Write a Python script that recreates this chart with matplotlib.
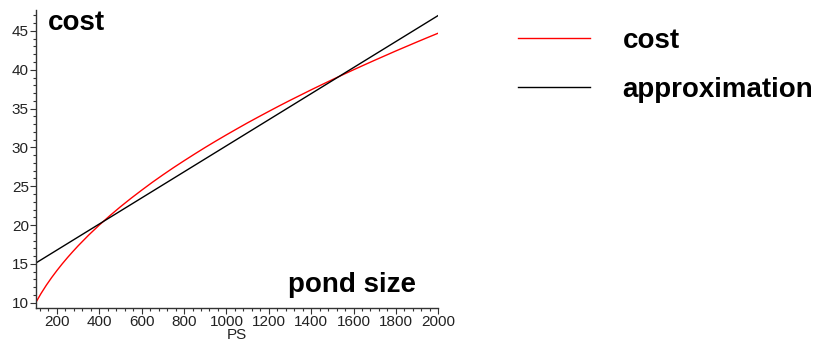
import matplotlib
matplotlib.use("Agg")
import matplotlib.pyplot as plt
from matplotlib.ticker import MultipleLocator

# valeurs
ps = [100, 125, 150, 175, 200, 225, 250, 275, 300, 350, 400, 450, 500, 550,
      600, 650, 700, 750, 800, 850, 900, 950, 1000, 1050, 1100, 1150, 1200,
      1250, 1300, 1350, 1400, 1450, 1500, 1550, 1600, 1650, 1700, 1750, 1800,
      1850, 1900, 1950, 2000]
cost = [10.00, 11.18, 12.25, 13.23, 14.14, 15.00, 15.81, 16.58, 17.32, 18.71,
        20.00, 21.21, 22.36, 23.45, 24.49, 25.50, 26.46, 27.39, 28.28, 29.15,
        30.00, 30.82, 31.62, 32.40, 33.17, 33.91, 34.64, 35.36, 36.06, 36.74,
        37.42, 38.08, 38.73, 39.37, 40.00, 40.62, 41.23, 41.83, 42.43, 43.01,
        43.59, 44.16, 44.72]
approx_ps = [100, 2000]
approx = [15.1, 47.0]

W, H = 820, 343
fig = plt.figure(figsize=(W / 100, H / 100), dpi=100)
ax = fig.add_axes([35.7 / W, 1 - 308.3 / H, (438.3 - 35.7) / W, (308.3 - 10) / H])

l1, = ax.plot(ps, cost, color='#ff0000', linewidth=1.0, label='cost')
l2, = ax.plot(approx_ps, approx, color='black', linewidth=1.0, label='approximation')

ax.set_xlim(100, 2000)
ax.set_ylim(9.28, 47.7)
ax.spines['top'].set_visible(False)
ax.spines['right'].set_visible(False)
for s in ['left', 'bottom']:
    ax.spines[s].set_linewidth(1.0)
    ax.spines[s].set_color('#333333')

ax.xaxis.set_major_locator(MultipleLocator(200))
ax.xaxis.set_minor_locator(MultipleLocator(40))
ax.yaxis.set_major_locator(MultipleLocator(5))
ax.yaxis.set_minor_locator(MultipleLocator(1))
ax.tick_params(which='major', length=4, width=0.8, color='#333333', pad=1,
               labelsize=11, labelcolor='#222222')
ax.tick_params(which='minor', length=2.5, width=0.8, color='#333333')
for lab in ax.get_xticklabels() + ax.get_yticklabels():
    lab.set_family('Liberation Sans')
ax.set_xlabel('PS', fontsize=11, family='Liberation Sans', color='#222222', labelpad=-1)

bold = dict(family='Liberation Sans', fontweight='bold', fontsize=20)
fig.text(48 / W, 1 - 29.5 / H, 'cost', va='baseline', ha='left', **bold)
fig.text(288 / W, 1 - 292 / H, 'pond size', va='baseline', ha='left', **bold)

leg = fig.legend(handles=[l1, l2], loc='upper left', bbox_to_anchor=(517.7 / W, 1 - 27.5 / H),
                 frameon=False, borderpad=0, borderaxespad=0, handlelength=2.59,
                 handletextpad=1.19, labelspacing=0.83,
                 prop={'family': 'Liberation Sans', 'weight': 'bold', 'size': 20})

plt.savefig('out.png', dpi=100)
